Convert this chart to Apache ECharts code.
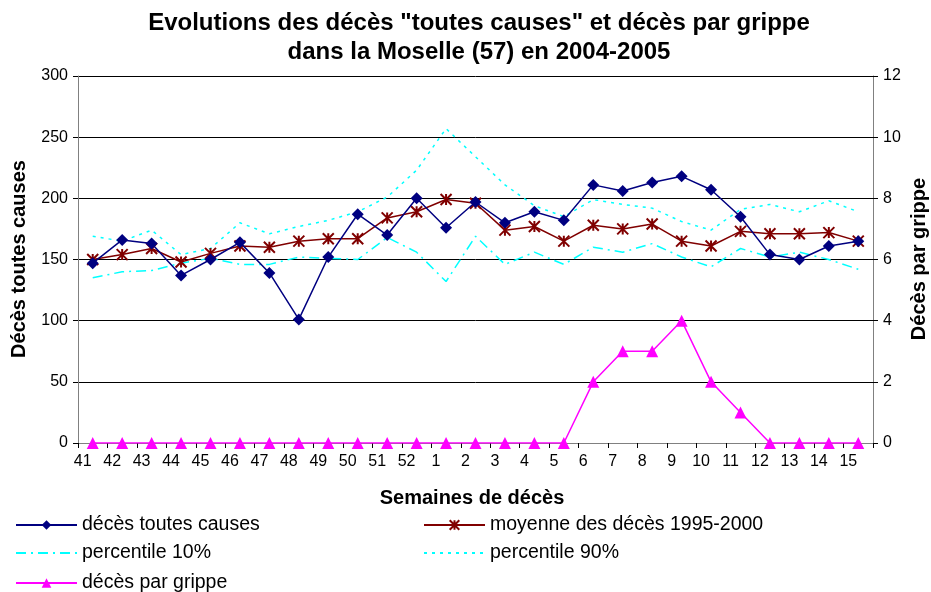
<!DOCTYPE html>
<html><head><meta charset="utf-8">
<script src="https://cdn.jsdelivr.net/npm/echarts@6/dist/echarts.min.js"></script>
<style>html,body{margin:0;padding:0;background:#fff;overflow:hidden}#c{width:931px;height:592px}</style>
</head><body><div id="c"></div>
<script>
const weeks = ['41','42','43','44','45','46','47','48','49','50','51','52','1','2','3','4','5','6','7','8','9','10','11','12','13','14','15'];
const decesToutes = [147,166,163,137,150,164,139,101,152,187,170,200,176,197,180,189,182,211,206,213,218,207,185,154,150,161,165];
const moyenne = [150,154,159,148,155,161,160,165,167,167,184,189,199,196,174,177,165,178,175,179,165,161,173,171,171,172,165];
const p10 = [135,140,141,147,151,146,146,152,151,150,168,156,132,169,146,156,146,160,156,163,152,144,159,152,156,150,142];
const p90 = [169,165,174,154,159,180,171,177,182,189,201,223,257,234,211,194,185,199,195,192,181,174,191,195,189,198,189];
const grippe = [0,0,0,0,0,0,0,0,0,0,0,0,0,0,0,0,0,2,3,3,4,2,1,0,0,0,0];

const FONT = 'Liberation Sans, Arial, sans-serif';
const chart = echarts.init(document.getElementById('c'), null, {renderer:'canvas'});
const starPath = 'path://M0,0L10,10M10,0L0,10M5,0L5,10';
const blankPath = 'path://M0,0L1,1';
const legendText = {fontFamily: FONT, fontSize: 19.5, color: '#000'};
function lg(name, left, top){
  return {data:[name], left:left, top:top, itemWidth:61, itemHeight:12, itemGap:0,
    textStyle:legendText, selectedMode:false, padding:0};
}
const nameStyle = {fontFamily:FONT, fontSize:20, fontWeight:'bold', fill:'#000'};
chart.setOption({
  animation:false,
  backgroundColor:'#fff',
  title:{text:'Evolutions des décès "toutes causes" et décès par grippe\ndans la Moselle (57) en 2004-2005',
    left:474, top:4, textAlign:'center',
    textStyle:{fontFamily:FONT, fontSize:24, fontWeight:'bold', color:'#000', lineHeight:29}},
  legend:[
    lg('décès toutes causes', 15, 515),
    lg('moyenne des décès 1995-2000', 423, 515),
    lg('percentile 10%', 15, 543),
    lg('percentile 90%', 423, 543),
    lg('décès par grippe', 15, 573)
  ],
  graphic:[
    {type:'text', x:472, y:498, style:Object.assign({text:'Semaines de décès', align:'center', verticalAlign:'middle'}, nameStyle)},
    {type:'text', x:19, y:259, rotation:Math.PI/2, style:Object.assign({text:'Décès toutes causes', align:'center', verticalAlign:'middle'}, nameStyle)},
    {type:'text', x:919, y:259, rotation:Math.PI/2, style:Object.assign({text:'Décès par grippe', align:'center', verticalAlign:'middle'}, nameStyle)}
  ],
  grid:{left:78, right:58, top:76, bottom:149, containLabel:false, outerBoundsMode:'none'},
  xAxis:{type:'category', data:weeks, boundaryGap:true,
    axisLine:{lineStyle:{color:'#808080', width:1}},
    axisTick:{show:true, alignWithLabel:false, length:5, lineStyle:{color:'#000'}},
    axisLabel:{fontFamily:FONT, fontSize:16, color:'#000', margin:11, interval:0, padding:[0,20,0,0]},
    splitLine:{show:false}},
  yAxis:[
    {type:'value', min:0, max:300, interval:50, position:'left',
     axisLine:{show:true, lineStyle:{color:'#808080'}},
     axisTick:{show:true, length:5, lineStyle:{color:'#000'}},
     axisLabel:{fontFamily:FONT, fontSize:16, color:'#000', margin:10},
     splitLine:{show:true, lineStyle:{color:'#000', width:1}}},
    {type:'value', min:0, max:12, interval:2, position:'right',
     axisLine:{show:true, lineStyle:{color:'#808080'}},
     axisTick:{show:true, length:5, lineStyle:{color:'#000'}},
     axisLabel:{fontFamily:FONT, fontSize:16, color:'#000', margin:10},
     splitLine:{show:false}}
  ],
  series:[
    {name:'percentile 10%', type:'line', data:p10, symbol:blankPath, showSymbol:false, z:2,
     lineStyle:{color:'#00FFFF', width:1.5, type:[10,5,2,5]}, itemStyle:{color:'transparent', borderWidth:0}},
    {name:'percentile 90%', type:'line', data:p90, symbol:blankPath, showSymbol:false, z:2,
     lineStyle:{color:'#00FFFF', width:1.5, type:[3,5]}, itemStyle:{color:'transparent', borderWidth:0}},
    {name:'moyenne des décès 1995-2000', type:'line', data:moyenne, symbol:starPath, symbolSize:11, z:3,
     lineStyle:{color:'#800000', width:1.5}, itemStyle:{color:'#800000', borderColor:'#800000', borderWidth:2}},
    {name:'décès toutes causes', type:'line', data:decesToutes, symbol:'diamond', symbolSize:12, z:4,
     lineStyle:{color:'#000080', width:1.5}, itemStyle:{color:'#000080'}},
    {name:'décès par grippe', type:'line', data:grippe, yAxisIndex:1, symbol:'triangle', symbolSize:12, z:5,
     lineStyle:{color:'#FF00FF', width:1.5}, itemStyle:{color:'#FF00FF'}}
  ]
});
</script></body></html>
